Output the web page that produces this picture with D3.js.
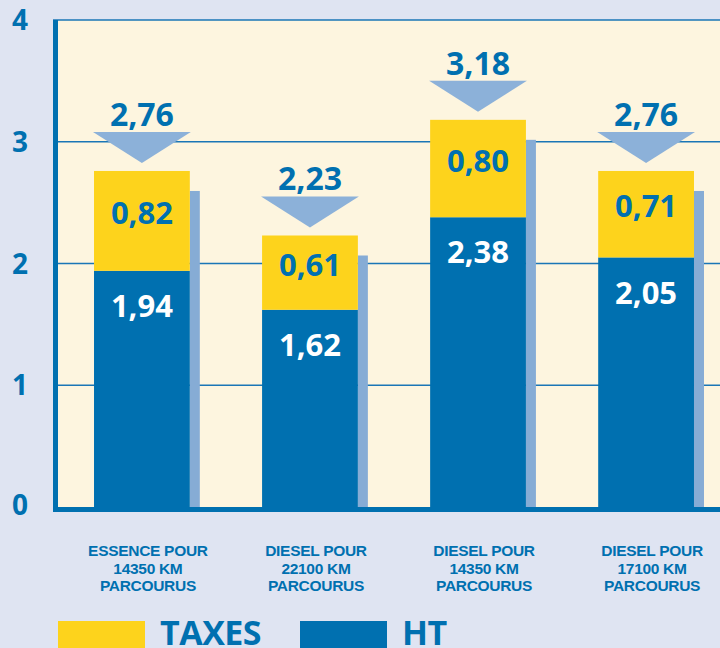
<!DOCTYPE html>
<html>
<head>
<meta charset="utf-8">
<script src="https://cdn.jsdelivr.net/npm/d3@7"></script>
<style>
  html, body { margin: 0; padding: 0; background: #dfe4f2; }
  svg { display: block; font-family: "Open Sans", "Noto Sans", sans-serif; font-weight: bold; }
</style>
</head>
<body>
<div id="chart"></div>
<script>
'use strict';

// categories (one per bar, split on lines)
const categories = [
  ["ESSENCE POUR", "14350 KM", "PARCOURUS"],
  ["DIESEL POUR", "22100 KM", "PARCOURUS"],
  ["DIESEL POUR", "14350 KM", "PARCOURUS"],
  ["DIESEL POUR", "17100 KM", "PARCOURUS"]
];
const htValues = [1.94, 1.62, 2.38, 2.05];
const taxValues = [0.82, 0.61, 0.80, 0.71];
const totalValues = [2.76, 2.23, 3.18, 2.76];
const yTicks = [0, 1, 2, 3, 4];
const legendLabels = ["TAXES", "HT"];

const blue = "#0070b0", yellow = "#fdd31c", shadow = "#86acd5", cream = "#fdf5df";
const fmt = v => d3.format(".2f")(v).replace(".", ",");

const width = 720, height = 648;
const plot = {left: 53, top: 20, right: 720, bottom: 507};

let svg = d3.select("#chart").append("svg")
  .attr("width", width)
  .attr("height", height);

svg.append("rect")
  .attr("width", width).attr("height", height)
  .attr("fill", "#dfe4f2");

// scales
let keys = categories.map((c, i) => "c" + i);
let x = d3.scaleBand()
  .domain(keys)
  .range([52, 736])
  .paddingInner(0.43)
  .paddingOuter(0.25);
let y = d3.scaleLinear()
  .domain([0, 4])
  .range([plot.bottom, plot.top]);

// plot background
svg.append("rect")
  .attr("x", plot.left).attr("y", plot.top)
  .attr("width", plot.right - plot.left).attr("height", plot.bottom - plot.top)
  .attr("fill", cream);

// gridlines (incl. top border)
svg.append("g")
  .selectAll("line")
  .data(yTicks.filter(d => d > 0))
  .join("line")
    .attr("x1", plot.left).attr("x2", plot.right)
    .attr("y1", d => y(d)).attr("y2", d => y(d))
    .attr("stroke", "#1a76b6")
    .attr("stroke-width", 1.5);

// y tick labels
svg.append("g")
  .selectAll("text")
  .data(yTicks)
  .join("text")
    .attr("x", 20)
    .attr("y", d => y(d))
    .attr("dy", d => d === 0 ? "0.3em" : "0.36em")
    .attr("text-anchor", "middle")
    .attr("fill", blue)
    .style("font-size", "28px")
    .text(d => d);

let bars = svg.append("g")
  .selectAll("g")
  .data(keys)
  .join("g");

const bw = x.bandwidth();

// shadow strip
bars.append("rect")
  .attr("x", k => x(k) + bw)
  .attr("y", (k, i) => y(totalValues[i]) + 20)
  .attr("width", 10)
  .attr("height", (k, i) => plot.bottom - y(totalValues[i]) - 20)
  .attr("fill", shadow);

// HT segment
bars.append("rect")
  .attr("x", k => x(k))
  .attr("y", (k, i) => y(htValues[i]))
  .attr("width", bw)
  .attr("height", (k, i) => y(0) - y(htValues[i]))
  .attr("fill", blue);

// taxes segment
bars.append("rect")
  .attr("x", k => x(k))
  .attr("y", (k, i) => y(htValues[i] + taxValues[i]))
  .attr("width", bw)
  .attr("height", (k, i) => y(htValues[i]) - y(htValues[i] + taxValues[i]))
  .attr("fill", yellow);

// inner labels
bars.append("text")
  .attr("x", k => x(k) + bw / 2)
  .attr("y", (k, i) => (y(htValues[i]) + y(htValues[i] + taxValues[i])) / 2 - 8)
  .attr("dy", "0.36em")
  .attr("text-anchor", "middle")
  .attr("fill", blue)
  .style("font-size", "31px")
  .text((k, i) => fmt(taxValues[i]));

bars.append("text")
  .attr("x", k => x(k) + bw / 2)
  .attr("y", (k, i) => y(htValues[i]) + 35)
  .attr("dy", "0.36em")
  .attr("text-anchor", "middle")
  .attr("fill", "#ffffff")
  .style("font-size", "31px")
  .text((k, i) => fmt(htValues[i]));

// arrows pointing at total
bars.append("path")
  .attr("d", (k, i) => {
    let tip = y(totalValues[i]) - 8, cx = x(k) + bw / 2;
    return d3.line()([[x(k) - 1, tip - 31], [x(k) + bw + 1, tip - 31], [cx, tip]]) + "Z";
  })
  .attr("fill", "#8cb1d9");

bars.append("text")
  .attr("x", k => x(k) + bw / 2)
  .attr("y", (k, i) => y(totalValues[i]) - 8 - 31 - 6)
  .attr("text-anchor", "middle")
  .attr("fill", blue)
  .style("font-size", "32px")
  .text((k, i) => fmt(totalValues[i]));

// frame: thick left & bottom
svg.append("line")
  .attr("x1", plot.left + 2.5).attr("x2", plot.left + 2.5)
  .attr("y1", plot.top).attr("y2", plot.bottom + 5)
  .attr("stroke", blue).attr("stroke-width", 5);
svg.append("line")
  .attr("x1", plot.left).attr("x2", plot.right)
  .attr("y1", plot.bottom + 2.5).attr("y2", plot.bottom + 2.5)
  .attr("stroke", blue).attr("stroke-width", 5);

// category labels, one text per line
let catLines = [];
keys.forEach((k, i) => categories[i].forEach((line, j) => catLines.push({k, line, j})));
svg.append("g")
  .selectAll("text")
  .data(catLines)
  .join("text")
    .attr("x", d => x(d.k) + bw / 2 + 6)
    .attr("y", d => 556 + d.j * 17.5)
    .attr("text-anchor", "middle")
    .attr("fill", blue)
    .style("font-family", "'Liberation Sans', Arial, sans-serif")
    .style("font-size", "15.5px")
    .style("letter-spacing", "-0.3px")
    .text(d => d.line);

// legend
const legendX = [58, 300];
const legendColors = [yellow, blue];
let legend = svg.append("g")
  .selectAll("g")
  .data(legendLabels)
  .join("g");
legend.append("rect")
  .attr("x", (d, i) => legendX[i])
  .attr("y", 621)
  .attr("width", 87)
  .attr("height", 30)
  .attr("fill", (d, i) => legendColors[i]);
legend.append("text")
  .attr("x", (d, i) => legendX[i] + 102)
  .attr("y", 645)
  .attr("fill", blue)
  .style("font-size", "34px")
  .style("letter-spacing", "-0.5px")
  .text(d => d);
</script>
</body>
</html>
